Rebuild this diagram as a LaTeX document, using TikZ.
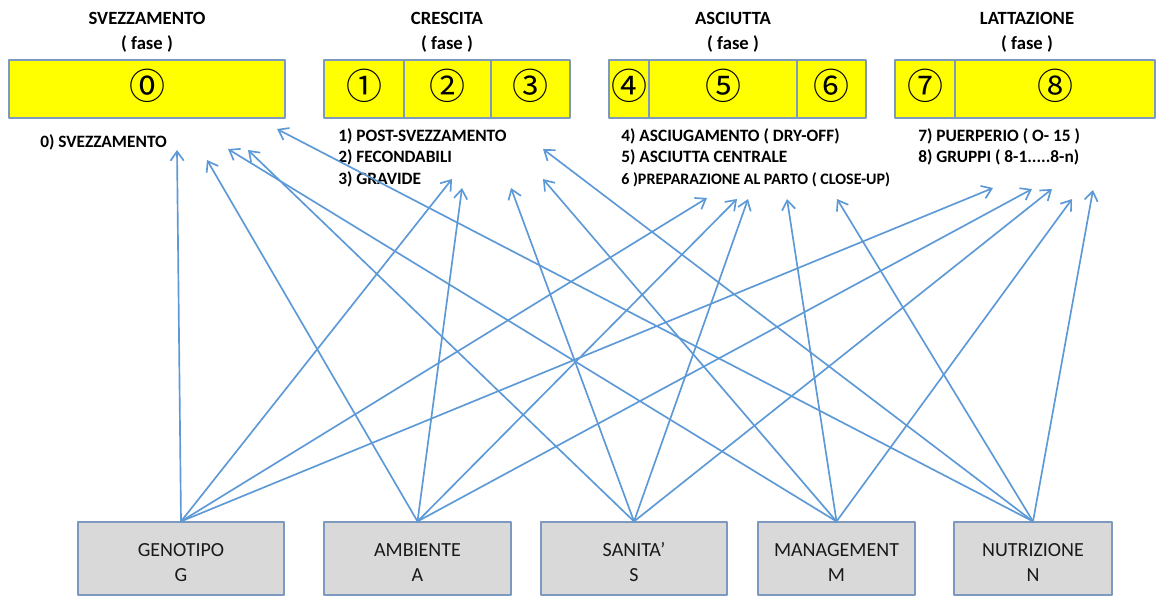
\documentclass[tikz,border=0pt]{standalone}
\usepackage{fontspec}
\setmainfont{Carlito}
\newfontfamily\cerchi{Noto Sans CJK SC}
\usepackage{pgf,tikz}
\usetikzlibrary{arrows.meta}
\usetikzlibrary{positioning}

\begin{document}
\begin{tikzpicture}[line cap=round,line join=round,x=0.75pt,y=-0.75pt,
  fase/.style={draw=ttzzdd,fill=ffffqq,line width=0.9pt},
  numero/.style={inner sep=0pt,font=\cerchi\fontsize{27}{27}\selectfont},
  titolo/.style={align=center,inner sep=0pt,font=\bfseries\fontsize{14}{18.75}\selectfont},
  elenco/.style={align=left,anchor=north west,inner sep=0pt,font=\bfseries\fontsize{13}{16.1}\selectfont},
  fattore/.style={draw=ttzzdd,fill=dbdbdb,line width=0.9pt,align=center,minimum height=54.75pt,text=black!90,font=\fontsize{15}{19}\selectfont},
  freccia/.style={draw=wwzzcc,line width=1.25pt,-{Straight Barb[length=7pt,width=10pt]}}]
\definecolor{ffffqq}{rgb}{1,1,0}
\definecolor{dbdbdb}{rgb}{0.851,0.851,0.851}
\definecolor{ttzzdd}{rgb}{0.49,0.6,0.75}
\definecolor{wwzzcc}{rgb}{0.36,0.6,0.84}
\useasboundingbox (0,0) rectangle (1162,597);
% fasi
\node[titolo] (tsv) at (147,32) {SVEZZAMENTO\\( fase )};
\node[titolo] (tcr) at (447,32) {CRESCITA\\( fase )};
\node[titolo] (tas) at (733,32) {ASCIUTTA\\( fase )};
\node[titolo] (tla) at (1027,32) {LATTAZIONE\\( fase )};
\foreach \xa/\xb/\k/\c in {9/285/0/⓪,324/404/1/①,404/491/2/②,491/570/3/③,609/649/4/④,649/797/5/⑤,797/866/6/⑥,895/955/7/⑦,955/1155/8/⑧}{
  \draw[fase] (\xa,60) rectangle (\xb,118);
  \node[numero] (c\k) at ({(\xa+\xb)/2},86) {\c};
}
% elenchi
\node[elenco] (l0) at (40,134) {0) SVEZZAMENTO};
\node[elenco] (l1) at (338,128) {1) POST-SVEZZAMENTO\\2) FECONDABILI\\3) GRAVIDE};
\node[elenco] (l4) at (621,128) {4) ASCIUGAMENTO ( DRY-OFF)\\5) ASCIUTTA CENTRALE\\{\fontsize{12}{16.1}\selectfont 6 )PREPARAZIONE AL PARTO ( CLOSE-UP)}};
\node[elenco] (l7) at (918,128) {7) PUERPERIO ( O- 15 )\\8) GRUPPI ( 8-1.....8-n)};
% fattori
\foreach \f/\cx/\w/\t in {G/181/206/GENOTIPO,A/417.5/187/AMBIENTE,S/634/186/SANITA’,M/836.5/157/MANAGEMENT,N/1033/158/NUTRIZIONE}{
  \node[fattore,minimum width=\w*0.75pt] (\f) at (\cx,558.5) {\rule{0pt}{16pt}\t\\\f};
}
% punte delle frecce
\coordinate (sv-G) at (177,150);
\coordinate (sv-A) at (207,160);
\coordinate (sv-M) at (228,149);
\coordinate (sv-S) at (248,150);
\coordinate (sv-N) at (277,129);
\coordinate (cr-G) at (452,179);
\coordinate (cr-A) at (462,188);
\coordinate (cr-S) at (511,188);
\coordinate (cr-M) at (543,179);
\coordinate (cr-N) at (543,149);
\coordinate (as-G) at (707,198);
\coordinate (as-A) at (737,199);
\coordinate (as-S) at (748,199);
\coordinate (as-M) at (787,199);
\coordinate (as-N) at (837,199);
\coordinate (la-G) at (993,188);
\coordinate (la-A) at (1032,189);
\coordinate (la-S) at (1052,189);
\coordinate (la-M) at (1072,199);
\coordinate (la-N) at (1093,190);
\foreach \f in {G,A,S,M,N}
  \foreach \p in {sv,cr,as,la}
    \draw[freccia] (\f.north) -- (\p-\f);
\end{tikzpicture}
\end{document}
